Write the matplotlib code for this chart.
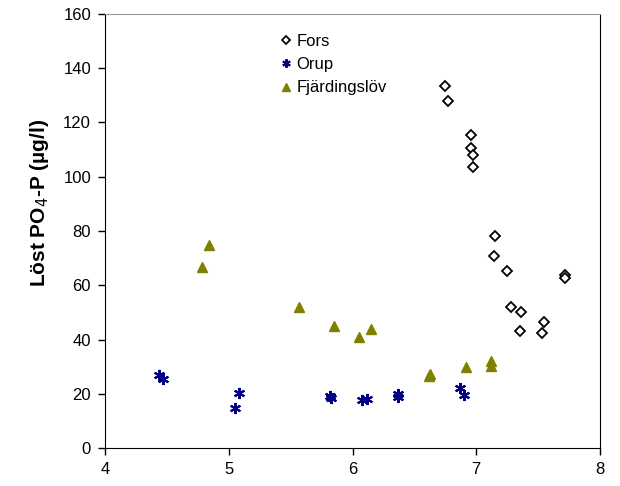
import matplotlib.pyplot as plt

plt.rcParams['font.family'] = ['Liberation Sans', 'DejaVu Sans']

# Fors
fors_x = [6.75, 6.77, 6.96, 6.96, 6.97, 6.97, 7.15, 7.14, 7.25, 7.28, 7.36, 7.35, 7.55, 7.53, 7.72, 7.72]
fors_y = [133.5, 128.0, 115.3, 110.5, 108.0, 103.6, 78.2, 70.9, 65.4, 52.0, 50.1, 43.3, 46.3, 42.4, 63.6, 62.7]

# Orup
orup_x = [4.44, 4.47, 5.08, 5.05, 5.82, 5.83, 6.08, 6.12, 6.37, 6.37, 6.87, 6.90]
orup_y = [26.9, 25.4, 20.2, 14.9, 19.2, 18.6, 17.7, 18.2, 19.9, 18.8, 22.1, 19.6]

# Fjärdingslöv
fj_x = [4.78, 4.84, 5.57, 5.85, 6.05, 6.15, 6.62, 6.63, 6.92, 7.12, 7.12]
fj_y = [66.7, 74.8, 51.9, 45.1, 40.8, 43.8, 26.6, 27.3, 29.7, 32.0, 30.4]

fig = plt.figure(figsize=(6.2, 4.86), dpi=100)
ax = fig.add_axes([105/620, 38/486, 495/620, 434/486])

ax.plot(fors_x, fors_y, ls='none', marker='D', ms=5, mfc='white', mec='black', mew=1.3, label='Fors')
ax.plot(orup_x, orup_y, ls='none', marker=(6, 2, 0), ms=8, mec='#000080', mew=1.5, label='Orup')
ax.plot(fj_x, fj_y, ls='none', marker='^', ms=7, mfc='#808000', mec='#808000', label='Fjärdingslöv')

ax.set_xlim(4, 8)
ax.set_ylim(0, 160)
ax.set_xticks([4, 5, 6, 7, 8])
ax.set_yticks(range(0, 161, 20))
ax.tick_params(direction='out', length=5, width=1, labelsize=12, pad=5)
ax.spines['top'].set_color('#999999')
for s in ['left', 'bottom', 'right']:
    ax.spines[s].set_color('black')

ax.set_ylabel('Löst PO$_4$-P (µg/l)', fontsize=15, fontweight='bold')
ax.yaxis.set_label_coords(-0.11, 0.565)

ax.legend(loc='upper left', bbox_to_anchor=(0.339, 0.97), frameon=False, fontsize=12,
          handlelength=0.8, handletextpad=0.2, labelspacing=0.5, borderaxespad=0, markerscale=0.75)

fig.savefig('out.png', dpi=100)
